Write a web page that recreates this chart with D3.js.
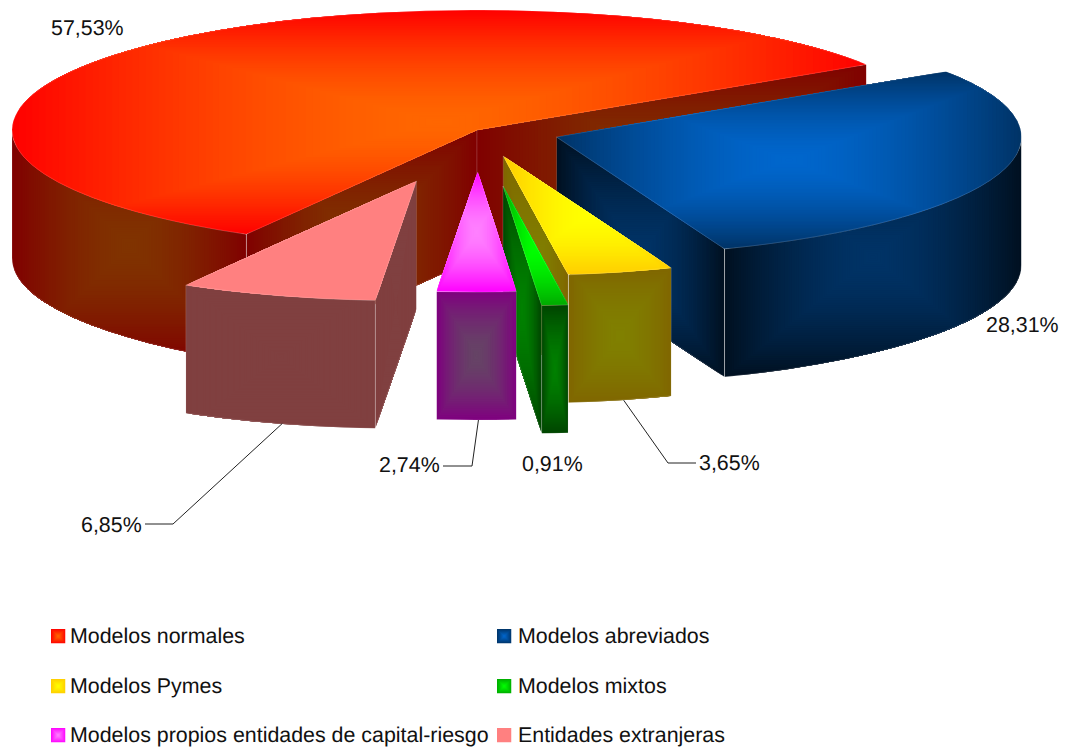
<!DOCTYPE html>
<html>
<head>
<meta charset="utf-8">
<script src="https://cdn.jsdelivr.net/npm/d3@7/dist/d3.min.js"></script>
<style>
html,body{margin:0;padding:0;background:#fff}
svg{display:block}
text{font-family:"Liberation Sans",Arial,sans-serif;font-size:21.4px;fill:#111;text-rendering:geometricPrecision}
</style>
</head>
<body>
<svg id="chart" width="1069" height="751"></svg>
<script>
// Data
const categories = ["Modelos normales","Modelos abreviados","Modelos Pymes","Modelos mixtos","Modelos propios entidades de capital-riesgo","Entidades extranjeras"];
const values = [57.53,28.31,3.65,0.91,2.74,6.85];

// Styling
const topEdge   = ["#ff0000","#003366","#ffcc00","#00aa00","#ff00ff","#ff8080"];
const topCenter = ["#ff6600","#0066cc","#ffff00","#00ff00","#ff80ff","#ff8080"];
const sideEdge  = ["#800000","#001020","#806600","#004400","#800080","#804040"];
const sideCenter= ["#803300","#003366","#808000","#008000","#664466","#804040"];

// Layout
const W=1069,H=751,cx=477,cy=130,rx=465,ry=120,depth=128;
const startDeg=-150.25;
const sliceShift=[[0,0],[79.5,7],[26.2,26],[26,56],[0.7,42],[-60.5,51]];
const labelPlace=[
  {x:51,y:35},{x:986,y:332},
  {x:699,y:470,elbow:[668,463],end:696,dx:3},
  {x:522,y:471},
  {x:379,y:472,elbow:[472,466],end:443,dx:2},
  {x:81,y:532,elbow:[173,524],end:145,dx:5}
];
const legendCols=[51,497], legendRows=[636,686,735];

const svg=d3.select("#chart");
const defs=svg.append("defs");
const ux=d3.scaleLinear().domain([-1,1]).range([-rx,rx]);
const uy=d3.scaleLinear().domain([-1,1]).range([ry,-ry]);
const pie=d3.pie().sort(null).startAngle(startDeg*Math.PI/180).endAngle((startDeg+360)*Math.PI/180);
const arcs=pie(values);
const pct=d3.formatLocale({decimal:",",thousands:".",grouping:[3],currency:["","" ]}).format(".2f");

let clipId=0;
const STEPS=64;
function rectGradient(parent,d,edge,center){
  const id="c"+(clipId++);
  defs.append("clipPath").attr("id",id).append("path").attr("d",d);
  const probe=svg.append("path").attr("d",d);
  const b=probe.node().getBBox();
  probe.remove();
  const col=d3.interpolateRgb(edge,center);
  const g=parent.append("g").attr("clip-path",`url(#${id})`);
  g.selectAll("rect").data(d3.range(0,STEPS)).join("rect")
    .attr("x",i=>b.x+b.width/2*i/STEPS)
    .attr("y",i=>b.y+b.height/2*i/STEPS)
    .attr("width",i=>b.width*(1-i/STEPS))
    .attr("height",i=>b.height*(1-i/STEPS))
    .attr("fill",i=>col(1-Math.pow(1-(i+0.5)/STEPS,1.6)));
  parent.append("path").attr("d",d).attr("fill","none")
    .attr("stroke","#fff").attr("stroke-opacity",0.2).attr("stroke-width",0.7);
}

const pt=(o,a,dz=0)=>[o[0]+ux(Math.sin(a)),o[1]+uy(Math.cos(a))+dz];
const arcTo=(p,sweep)=>`A${rx},${ry} 0 0 ${sweep} ${p[0]},${p[1]}`;
function arcSeg(o,a0,a1,sweep,dz){
  const n=Math.ceil(Math.abs(a1-a0)/(Math.PI/2));
  let s="";
  for(let i=1;i<=n;i++) s+=arcTo(pt(o,a0+(a1-a0)*i/n,dz),sweep);
  return s;
}

const plot=svg.append("g");
arcs.forEach((a,i)=>{
  const shift=sliceShift[i];
  const o=[cx+shift[0],cy+shift[1]];
  const g=plot.append("g");
  const wall=(ang)=>{
    const p=pt(o,ang),q=pt(o,ang,depth),r=[o[0],o[1]+depth];
    return `M${o[0]},${o[1]}L${p[0]},${p[1]}L${q[0]},${q[1]}L${r[0]},${r[1]}Z`;
  };
  if(Math.sin(a.startAngle)<0) rectGradient(g,wall(a.startAngle),sideEdge[i],sideCenter[i]);
  if(Math.sin(a.endAngle)>0) rectGradient(g,wall(a.endAngle),sideEdge[i],sideCenter[i]);
  // outer wall: the part of the rim that faces the viewer (front half of the ellipse)
  const turn=a.startAngle<0?-2*Math.PI:0;
  const lo=Math.max(a.startAngle,Math.PI/2+turn), hi=Math.min(a.endAngle,Math.PI*1.5+turn);
  if(hi>lo){
    const s=pt(o,lo);
    const d=`M${s[0]},${s[1]}`+arcSeg(o,lo,hi,1,0)+`L${pt(o,hi,depth).join(",")}`+arcSeg(o,hi,lo,0,depth)+"Z";
    rectGradient(g,d,sideEdge[i],sideCenter[i]);
  }
  const s0=pt(o,a.startAngle);
  const top=`M${o[0]},${o[1]}L${s0[0]},${s0[1]}`+arcSeg(o,a.startAngle,a.endAngle,1,0)+"Z";
  rectGradient(g,top,topEdge[i],topCenter[i]);
});

// Labels and leader lines
const labels=svg.append("g");
arcs.forEach((a,i)=>{
  const L=labelPlace[i];
  const shift=sliceShift[i];
  if(L.elbow){
    const mid=(a.startAngle+a.endAngle)/2;
    const p=pt([cx+shift[0],cy+shift[1]],mid,depth);
    labels.append("polyline")
      .attr("points",[[p[0]+L.dx,p[1]],L.elbow,[L.end,L.elbow[1]]].map(q=>q.join(",")).join(" "))
      .attr("fill","none").attr("stroke","#222").attr("stroke-width",1);
  }
  labels.append("text").attr("x",L.x).attr("y",L.y).text(pct(a.data)+"%");
});

// Legend
const legend=svg.append("g");
categories.forEach((c,i)=>{
  const x=legendCols[i%2], y=legendRows[Math.floor(i/2)];
  const d=`M${x},${y-7}h14.5v14.5h-14.5Z`;
  const id="c"+(clipId++);
  defs.append("clipPath").attr("id",id).append("path").attr("d",d);
  const g=legend.append("g").attr("clip-path",`url(#${id})`);
  const col=d3.interpolateRgb(topEdge[i],topCenter[i]);
  g.selectAll("rect").data(d3.range(0,7)).join("rect")
    .attr("x",k=>x+k).attr("y",k=>y-7+k)
    .attr("width",k=>14.5-2*k).attr("height",k=>14.5-2*k)
    .attr("fill",k=>col((k+0.5)/7));
  legend.append("text").attr("x",x+(i%2?21:19)).attr("y",y+7).text(c);
});
</script>
</body>
</html>
